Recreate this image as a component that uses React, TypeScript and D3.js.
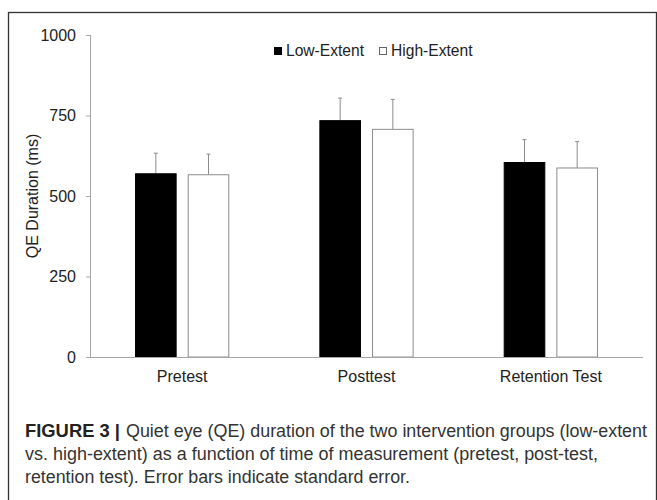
import * as d3 from "d3";

const categories = ["Pretest", "Posttest", "Retention Test"];
const series = ["Low-Extent", "High-Extent"];
const lowExtent = [569, 734, 604];
const highExtent = [566, 707, 587];
const lowSE = [64, 70, 71];
const highSE = [64, 93, 82];
const yTicks = [0, 250, 500, 750, 1000];

const captionBold = "FIGURE 3 |";
const captionLines = [
  "Quiet eye (QE) duration of the two intervention groups (low-extent",
  "vs. high-extent) as a function of time of measurement (pretest, post-test,",
  "retention test). Error bars indicate standard error.",
];

const W = 657;
const H = 500;
const margin = { top: 35, left: 90, right: 14, bottom: 143 };
const font = "'Liberation Sans', Arial, sans-serif";

export default function App() {
  const x0 = d3
    .scaleBand()
    .domain(categories)
    .range([margin.left, W - margin.right])
    .padding(0);

  const x1 = d3
    .scaleBand()
    .domain(series)
    .range([0, x0.bandwidth()])
    .paddingInner(0.21)
    .paddingOuter(0.855);

  const y = d3
    .scaleLinear()
    .domain([0, 1000])
    .range([H - margin.bottom, margin.top]);

  const values = [lowExtent, highExtent];
  const errors = [lowSE, highSE];
  const fills = ["#000", "#fff"];
  const strokes = ["#000", "#8c8c8c"];

  const axisColor = "#a6a6a6";

  return (
    <svg
      width={W}
      height={H}
      style={{ position: "absolute", left: 0, top: 0, background: "#fff" }}
    >
      {/* рамка */}
      <rect x={8.5} y={12.5} width={W - 9} height={H} fill="none" stroke="#333" strokeWidth={1.3} />

      {/* ось Y */}
      <line x1={margin.left + 0.5} x2={margin.left + 0.5} y1={y(1000)} y2={y(0)} stroke={axisColor} strokeWidth={1} />
      {yTicks.map((t) => (
        <g key={t}>
          <line x1={margin.left - 4} x2={margin.left} y1={y(t) + 0.5} y2={y(t) + 0.5} stroke={axisColor} />
          <text x={76} y={y(t)} dy="0.35em" textAnchor="end" fontFamily={font} fontSize={16} fill="#222">
            {t}
          </text>
        </g>
      ))}
      <text
        transform={`translate(38,${(y(0) + y(1000)) / 2}) rotate(-90)`}
        textAnchor="middle"
        fontFamily={font}
        fontSize={16}
        fill="#222"
      >
        QE Duration (ms)
      </text>

      {/* столбцы */}
      {categories.map((c, i) => (
        <g key={c} transform={`translate(${x0(c)},0)`}>
          {series.map((s, j) => {
            const v = values[j][i];
            const e = errors[j][i];
            const bx = x1(s) as number;
            const cx = bx + x1.bandwidth() / 2;
            return (
              <g key={s}>
                <line x1={cx} x2={cx} y1={y(v)} y2={y(v + e)} stroke="#8c8c8c" strokeWidth={1} />
                <line x1={cx - 2} x2={cx + 2} y1={y(v + e)} y2={y(v + e)} stroke="#8c8c8c" strokeWidth={1} />
                <rect
                  x={bx + 0.5}
                  y={y(v)}
                  width={x1.bandwidth() - 1}
                  height={y(0) - y(v)}
                  fill={fills[j]}
                  stroke={strokes[j]}
                  strokeWidth={1}
                />
              </g>
            );
          })}
        </g>
      ))}

      {/* ось X */}
      <line x1={margin.left} x2={W - margin.right} y1={y(0) + 0.5} y2={y(0) + 0.5} stroke={axisColor} strokeWidth={1.2} />
      {categories.map((c) => (
        <text
          key={c}
          x={(x0(c) as number) + x0.bandwidth() / 2}
          y={382}
          textAnchor="middle"
          fontFamily={font}
          fontSize={16}
          fill="#222"
        >
          {c}
        </text>
      ))}

      {/* легенда */}
      <rect x={274} y={47} width={8} height={8} fill="#000" />
      <text x={286} y={56} fontFamily={font} fontSize={15.6} fill="#222">
        {series[0]}
      </text>
      <rect x={379.5} y={47.5} width={7} height={7} fill="#fff" stroke="#666" />
      <text x={391} y={56} fontFamily={font} fontSize={15.6} fill="#222">
        {series[1]}
      </text>

      {/* подпись */}
      <text x={25} y={437} fontFamily={font} fontSize={17.5} fontWeight="bold" fill="#222" textLength={95} lengthAdjust="spacingAndGlyphs">
        {captionBold}
      </text>
      <text x={126} y={437} fontFamily={font} fontSize={17.5} fill="#333" textLength={521} lengthAdjust="spacingAndGlyphs">
        {captionLines[0]}
      </text>
      <text x={25} y={460} fontFamily={font} fontSize={17.5} fill="#333" textLength={573} lengthAdjust="spacingAndGlyphs">
        {captionLines[1]}
      </text>
      <text x={25} y={483} fontFamily={font} fontSize={17.5} fill="#333" textLength={385} lengthAdjust="spacingAndGlyphs">
        {captionLines[2]}
      </text>
    </svg>
  );
}
